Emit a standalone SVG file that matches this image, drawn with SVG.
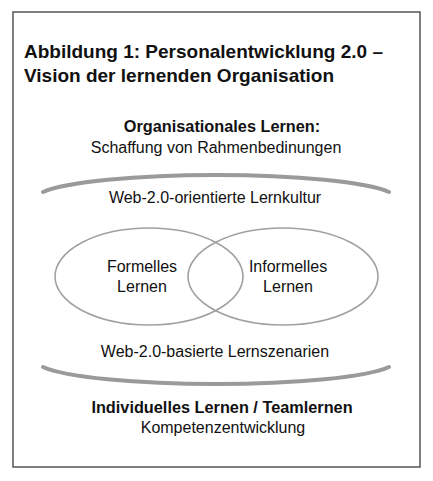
<svg xmlns="http://www.w3.org/2000/svg" width="433" height="481" viewBox="0 0 433 481">
<style>
text{font-family:"Liberation Sans",Arial,sans-serif;fill:#111;}
.title{font-size:19px;font-weight:bold;}
.b{font-size:16.3px;font-weight:bold;text-anchor:middle;}
.n{font-size:16px;text-anchor:middle;}
.arc{fill:none;stroke:#9a9a9a;stroke-width:4;stroke-linecap:round;}
.ell{fill:none;stroke:#a0a0a0;stroke-width:1.6;}
</style>
<rect width="433" height="481" fill="#fff"/>
<rect x="13" y="12" width="407" height="455" fill="none" stroke="#555" stroke-width="1.5"/>
<g id="title">
<text class="title" x="24" y="58">Abbildung 1: Personalentwicklung 2.0 –</text>
<text class="title" x="24" y="82">Vision der lernenden Organisation</text>
</g>
<g id="org">
<text class="b" x="222" y="132">Organisationales Lernen:</text>
<text class="n" x="216" y="153">Schaffung von Rahmenbedinungen</text>
</g>
<g id="connectors">
<path class="arc" d="M43,192 A180,23.5 0 0 1 389,192"/>
<path class="arc" d="M43,367 A180,23.5 0 0 0 389,367"/>
</g>
<g id="kultur"><text class="n" x="215" y="203">Web-2.0-orientierte Lernkultur</text></g>
<g id="formell">
<ellipse class="ell" cx="149" cy="276.5" rx="94" ry="48.5"/>
<text class="n" x="142" y="272">Formelles</text>
<text class="n" x="142" y="292">Lernen</text>
</g>
<g id="informell">
<ellipse class="ell" cx="283" cy="276.5" rx="95" ry="48.5"/>
<text class="n" x="288" y="272">Informelles</text>
<text class="n" x="288" y="292">Lernen</text>
</g>
<g id="szenarien"><text class="n" x="215" y="357">Web-2.0-basierte Lernszenarien</text></g>
<g id="individuell">
<text class="b" x="222" y="413">Individuelles Lernen / Teamlernen</text>
<text class="n" x="223" y="433">Kompetenzentwicklung</text>
</g>
</svg>
